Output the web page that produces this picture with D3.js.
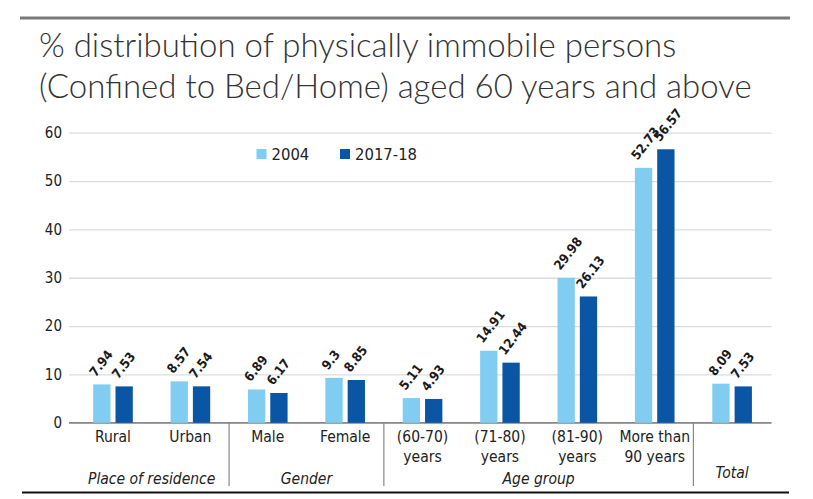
<!DOCTYPE html>
<html>
<head>
<meta charset="utf-8">
<script src="https://cdn.jsdelivr.net/npm/d3@7"></script>
<style>
  html, body { margin: 0; padding: 0; background: #fff; }
  svg { display: block; }
</style>
</head>
<body>
<svg id="chart" width="813" height="499"></svg>
<script>
// ---- data ----
const categories = ["Rural", "Urban", "Male", "Female", "(60-70) years", "(71-80) years", "(81-90) years", "More than 90 years", "Total"];
const categoryLines = [["Rural"], ["Urban"], ["Male"], ["Female"], ["(60-70)", "years"], ["(71-80)", "years"], ["(81-90)", "years"], ["More than", "90 years"], []];
const seriesNames = ["2004", "2017-18"];
const values2004 = [7.94, 8.57, 6.89, 9.3, 5.11, 14.91, 29.98, 52.73, 8.09];
const values2017 = [7.53, 7.54, 6.17, 8.85, 4.93, 12.44, 26.13, 56.57, 7.53];
const valueLabels2004 = ["7.94", "8.57", "6.89", "9.3", "5.11", "14.91", "29.98", "52.73", "8.09"];
const valueLabels2017 = ["7.53", "7.54", "6.17", "8.85", "4.93", "12.44", "26.13", "56.57", "7.53"];
const groupNames = ["Place of residence", "Gender", "Age group", "Total"];
const groupFirst = [0, 2, 4, 8];
const groupLast = [1, 3, 7, 8];
const yTicks = [0, 10, 20, 30, 40, 50, 60];
const titleLines = ["% distribution of physically immobile persons", "(Confined to Bed/Home) aged 60 years and above"];

// ---- setup ----
const svg = d3.select("#chart");
const colors = d3.scaleOrdinal().domain(seriesNames).range(["#80cdf1", "#0b56a4"]);
const font = "'DejaVu Sans Condensed', 'DejaVu Sans', sans-serif";

const x0 = d3.scaleBand().domain(categories).range([74.3, 770.8]).paddingInner(0.488).paddingOuter(0.244);
const x1 = d3.scaleBand().domain(seriesNames).range([0, x0.bandwidth()]).paddingInner(0.224);
const y = d3.scaleLinear().domain([0, 60]).range([422.8, 132.7]);

// top rule
svg.append("rect").attr("x", 20).attr("y", 16.5).attr("width", 770).attr("height", 3).attr("fill", "#7a7a7a");

// title
svg.append("g").selectAll("text").data(titleLines).join("text")
  .attr("x", 39).attr("y", (d, i) => 57 + i * 41)
  .attr("font-family", "Lato, 'Open Sans', sans-serif")
  .attr("font-weight", 300)
  .attr("font-size", 33)
  .attr("fill", "#333")
  .text(d => d);

// gridlines + y axis
const yAxis = d3.axisLeft(y).tickValues(yTicks).tickSize(-(771.5 - 69)).tickPadding(7).tickFormat(d3.format("d"));
const gy = svg.append("g").attr("transform", "translate(69,0)").call(yAxis);
gy.select(".domain").remove();
gy.selectAll(".tick line").attr("stroke", "#dcdcdc").attr("stroke-width", 1.3);
gy.selectAll(".tick text").attr("font-family", font).attr("font-size", 15).attr("fill", "#222");

// baseline
svg.append("line").attr("x1", 69).attr("x2", 771.5).attr("y1", y(0)).attr("y2", y(0))
  .attr("stroke", "#666").attr("stroke-width", 1.3);

// bars
const rows = categories.map((c, i) => ({
  cat: c,
  vals: [
    {s: seriesNames[0], v: values2004[i], lab: valueLabels2004[i]},
    {s: seriesNames[1], v: values2017[i], lab: valueLabels2017[i]}
  ]
}));
const groups = svg.append("g").selectAll("g").data(rows).join("g")
  .attr("transform", d => "translate(" + x0(d.cat) + ",0)");
groups.selectAll("rect").data(d => d.vals).join("rect")
  .attr("x", d => x1(d.s)).attr("width", x1.bandwidth())
  .attr("y", d => y(d.v)).attr("height", d => y(0) - y(d.v))
  .attr("fill", d => colors(d.s));

groups.selectAll("text.val").data(d => d.vals).join("text")
  .attr("class", "val")
  .attr("transform", d => "translate(" + (x1(d.s) + x1.bandwidth() / 2 - 6).toFixed(2) + "," + (y(d.v) - 7).toFixed(2) + ") rotate(-52)")
  .attr("font-family", font).attr("font-weight", "bold").attr("font-size", 13).attr("fill", "#1a1a1a")
  .text(d => d.lab);

// category labels
const catG = svg.append("g").selectAll("text").data(categories).join("text")
  .attr("x", d => x0(d) + x0.bandwidth() / 2)
  .attr("text-anchor", "middle")
  .attr("font-family", font).attr("font-size", 15.5).attr("fill", "#222");
catG.selectAll("tspan").data((d, i) => categoryLines[i]).join("tspan")
  .attr("x", function() { return this.parentNode.getAttribute("x"); })
  .attr("y", (d, i) => 442 + i * 20)
  .text(d => d);

// group separators
const step = x0.step();
const sepIdx = [2, 4, 8];
svg.append("g").selectAll("line").data(sepIdx).join("line")
  .attr("x1", i => x0(categories[i]) - x0.paddingInner() * step / 2)
  .attr("x2", i => x0(categories[i]) - x0.paddingInner() * step / 2)
  .attr("y1", y(0)).attr("y2", 486)
  .attr("stroke", "#888").attr("stroke-width", 1.2);

// group labels
svg.append("g").selectAll("text").data(groupNames).join("text")
  .attr("x", (d, i) => (x0(categories[groupFirst[i]]) + x0(categories[groupLast[i]]) + x0.bandwidth()) / 2)
  .attr("y", (d, i) => i === 3 ? 478 : 484)
  .attr("text-anchor", "middle")
  .attr("font-family", font).attr("font-style", "italic").attr("font-size", 15.5).attr("fill", "#222")
  .text(d => d);

// bottom rule
svg.append("line").attr("x1", 22).attr("x2", 789).attr("y1", 492.5).attr("y2", 492.5)
  .attr("stroke", "#111").attr("stroke-width", 2);

// legend
const legendX = [256.5, 340];
const leg = svg.append("g").selectAll("g").data(seriesNames).join("g")
  .attr("transform", (d, i) => "translate(" + legendX[i] + ",149)");
leg.append("rect").attr("width", 10).attr("height", 10).attr("fill", d => colors(d));
leg.append("text").attr("x", 15).attr("y", 10.5)
  .attr("font-family", font).attr("font-size", 16.5).attr("fill", "#222")
  .text(d => d);
</script>
</body>
</html>
